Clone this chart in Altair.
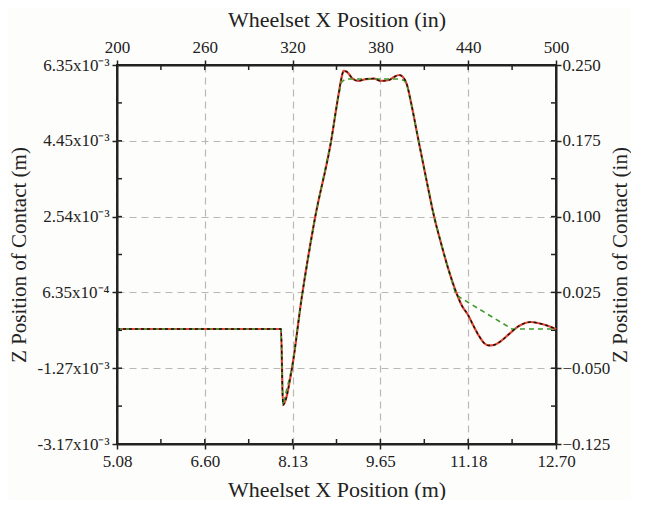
import altair as alt
import pandas as pd

# Main response (inches)
x_in = [200.0, 252.6, 312.1, 313.4, 319.6, 326.2, 335.3, 346.2, 351.0, 353.4, 354.8, 357.2,
        360.6, 364.7, 370.2, 375.6, 380.4, 385.9, 389.3, 392.7, 395.4, 398.2, 401.0, 405.7,
        411.2, 416.6, 421.4, 426.2, 431.7, 435.8, 439.9, 444.0, 447.4, 450.8, 454.2, 457.6,
        462.4, 467.9, 474.7, 482.9, 490.4, 500.0]
z_in = [-0.0112, -0.0112, -0.0112, -0.0864, -0.0498, 0.0195, 0.0986, 0.1738, 0.2173, 0.2371,
        0.2441, 0.2431, 0.2371, 0.2342, 0.2361, 0.2366, 0.2342, 0.2352, 0.2381, 0.2401,
        0.2381, 0.2302, 0.2124, 0.1778, 0.1382, 0.1006, 0.0739, 0.0492, 0.0254, 0.0116,
        0.0027, -0.0092, -0.0181, -0.0250, -0.0275, -0.0270, -0.0231, -0.0162, -0.0082,
        -0.0043, -0.0063, -0.0112]

# Reference profile (green dashed, inches)
gx_in = [200.0, 252.6, 312.1, 313.4, 319.6, 326.2, 335.3, 346.2, 351.0, 353.4, 356.0,
         393.0, 396.5, 398.2, 401.0, 405.7, 411.2, 416.6, 421.4, 426.2, 431.7, 469.9, 500.0]
gz_in = [-0.0112, -0.0112, -0.0112, -0.0864, -0.0498, 0.0195, 0.0986, 0.1738, 0.2173,
         0.2330, 0.2361, 0.2361, 0.2345, 0.2302, 0.2124, 0.1778, 0.1382, 0.1006, 0.0739,
         0.0492, 0.0224, -0.0112, -0.0112]

IN2M = 0.0254

x_m_ticks = [5.08, 6.604, 8.128, 9.652, 11.176, 12.70]
x_in_ticks = [200, 260, 320, 380, 440, 500]
z_in_ticks = [-0.125, -0.050, 0.025, 0.100, 0.175, 0.250]
z_m_labels = ["-3.17x10\u207b\u00b3", "-1.27x10\u207b\u00b3", "6.35x10\u207b\u2074",
              "2.54x10\u207b\u00b3", "4.45x10\u207b\u00b3", "6.35x10\u207b\u00b3"]
# all major + minor tick positions (inches)
x_in_all_ticks = [200, 230, 260, 290, 320, 350, 380, 410, 440, 470, 500]
z_in_all_ticks = [-0.125, -0.0875, -0.050, -0.0125, 0.025, 0.0625, 0.100, 0.1375,
                  0.175, 0.2125, 0.250]

z_m_ticks = [v * IN2M for v in z_in_ticks]

df_main = pd.DataFrame({"x_in": x_in, "z_in": z_in})
df_main["x_m"] = df_main["x_in"] * IN2M
df_main["z_m"] = df_main["z_in"] * IN2M
df_green = pd.DataFrame({"x_in": gx_in, "z_in": gz_in})
df_xt = pd.DataFrame({"x_m": [v * IN2M for v in x_in_all_ticks]})
df_zt = pd.DataFrame({"z_m": [v * IN2M for v in z_in_all_ticks]})

W, H = 439, 379
FONT = "Liberation Serif"
INK = "#222"

label_expr = ""
for v, lab in zip(z_m_ticks, z_m_labels):
    label_expr += f"abs(datum.value - ({v:.7f})) < 0.00001 ? '{lab}' : "
label_expr += "''"

common_axis = dict(labelFont=FONT, titleFont=FONT, labelFontSize=17,
                   titleFontWeight="normal", labelColor=INK, titleColor=INK,
                   domainColor=INK, domainWidth=2, tickColor=INK, tickWidth=1.5,
                   tickSize=5, labelFlush=False, labelOverlap=False)

x_m_axis = alt.Axis(orient="bottom", values=x_m_ticks, format=".2f",
                    title="Wheelset X Position (m)", grid=True, gridDash=[7, 5],
                    gridColor="#b8b8b8", gridWidth=1.2, titlePadding=10, labelPadding=4,
                    titleFontSize=22, **common_axis)
z_m_axis = alt.Axis(orient="left", values=z_m_ticks, labelExpr=label_expr,
                    title="Z Position of Contact (m)", grid=True, gridDash=[7, 5],
                    gridColor="#b8b8b8", gridWidth=1.2, titlePadding=7, labelPadding=3,
                    titleFontSize=21, **common_axis)
x_in_axis = alt.Axis(orient="top", values=x_in_ticks, format="d",
                     title="Wheelset X Position (in)", grid=False, titlePadding=7,
                     labelPadding=4, titleFontSize=22, **common_axis)
z_in_axis = alt.Axis(orient="right", values=z_in_ticks, format=".3f",
                     title="Z Position of Contact (in)", grid=False, titlePadding=0,
                     titleAngle=270, titleBaseline="top", labelPadding=1,
                     titleFontSize=21, **common_axis)

xm_scale = alt.Scale(domain=[5.08, 12.70], nice=False, zero=False)
zm_scale = alt.Scale(domain=[-0.125 * IN2M, 0.250 * IN2M], nice=False, zero=False)
xi_scale = alt.Scale(domain=[200, 500], nice=False, zero=False)
zi_scale = alt.Scale(domain=[-0.125, 0.250], nice=False, zero=False)

red_line = alt.Chart(df_main).mark_line(color="#e2452f", strokeWidth=2.2,
                                        interpolate="monotone").encode(
    x=alt.X("x_m:Q", scale=xm_scale, axis=x_m_axis),
    y=alt.Y("z_m:Q", scale=zm_scale, axis=z_m_axis),
)

# inward tick marks (bottom/top/left/right)
tick_b = alt.Chart(df_xt).mark_rule(color=INK, strokeWidth=1.5).encode(
    x=alt.X("x_m:Q", scale=xm_scale, axis=x_m_axis), y=alt.value(H - 5), y2=alt.value(H))
tick_t = alt.Chart(df_xt).mark_rule(color=INK, strokeWidth=1.5).encode(
    x=alt.X("x_m:Q", scale=xm_scale, axis=x_m_axis), y=alt.value(0), y2=alt.value(5))
tick_l = alt.Chart(df_zt).mark_rule(color=INK, strokeWidth=1.5).encode(
    y=alt.Y("z_m:Q", scale=zm_scale, axis=z_m_axis), x=alt.value(0), x2=alt.value(5))
tick_r = alt.Chart(df_zt).mark_rule(color=INK, strokeWidth=1.5).encode(
    y=alt.Y("z_m:Q", scale=zm_scale, axis=z_m_axis), x=alt.value(W - 5), x2=alt.value(W))

metre_layer = alt.layer(red_line, tick_b, tick_t, tick_l, tick_r)

green_line = alt.Chart(df_green).mark_line(color="#3e9a2c", strokeWidth=1.6,
                                           strokeDash=[5, 4]).encode(
    x=alt.X("x_in:Q", scale=xi_scale, axis=x_in_axis),
    y=alt.Y("z_in:Q", scale=zi_scale, axis=z_in_axis),
)
black_line = alt.Chart(df_main).mark_line(color="#111", strokeWidth=1.4,
                                          strokeDash=[3, 3],
                                          interpolate="monotone").encode(
    x=alt.X("x_in:Q", scale=xi_scale, axis=x_in_axis),
    y=alt.Y("z_in:Q", scale=zi_scale, axis=z_in_axis),
)

inch_layer = alt.layer(green_line, black_line)

chart = alt.layer(metre_layer, inch_layer).resolve_scale(
    x="independent", y="independent"
).properties(
    width=W, height=H, background="#fdfdfb",
    padding={"left": 0, "top": 0, "right": 0, "bottom": 0},
).configure_view(stroke=INK, strokeWidth=2)

chart.save("out.html", embed_options={"renderer": "svg", "actions": False})
